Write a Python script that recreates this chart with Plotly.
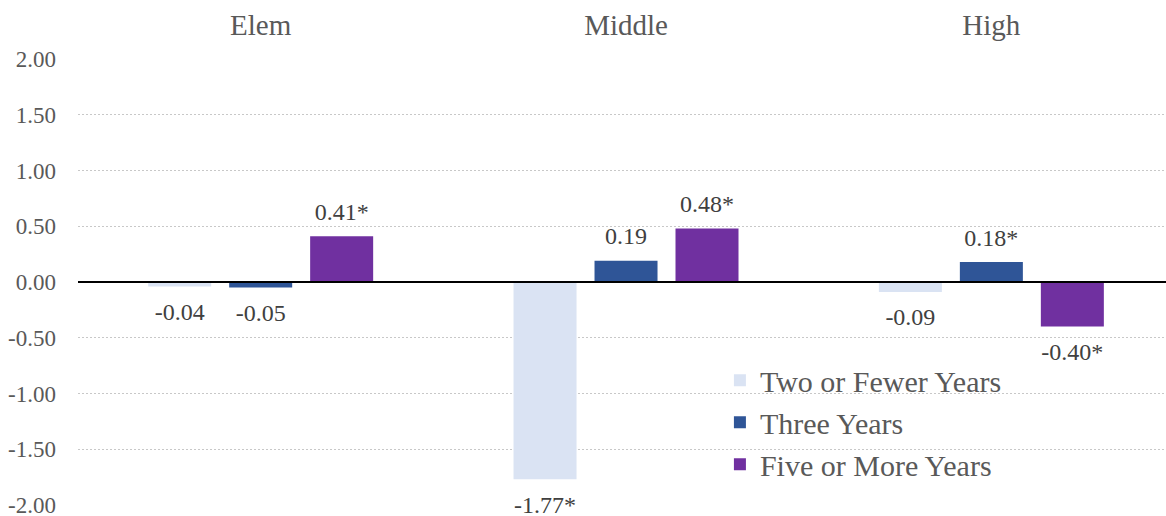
import plotly.graph_objects as go

categories = ["Elem", "Middle", "High"]
series_names = ["Two or Fewer Years", "Three Years", "Five or More Years"]
two_or_fewer = [-0.04, -1.77, -0.09]
three_years = [-0.05, 0.19, 0.18]
five_or_more = [0.41, 0.48, -0.40]
label_two = ["-0.04", "-1.77*", "-0.09"]
label_three = ["-0.05", "0.19", "0.18*"]
label_five = ["0.41*", "0.48*", "-0.40*"]
y_ticks = [2.0, 1.5, 1.0, 0.5, 0.0, -0.5, -1.0, -1.5, -2.0]
y_tick_labels = ["2.00", "1.50", "1.00", "0.50", "0.00", "-0.50", "-1.00", "-1.50", "-2.00"]

colors = ["#DAE3F3", "#2F5597", "#7030A0"]
FONT = "Liberation Serif"
GAP = 0.335

fig = go.Figure()
for i, (name, vals, col) in enumerate(zip(series_names,
                                          [two_or_fewer, three_years, five_or_more],
                                          colors)):
    fig.add_trace(go.Bar(
        x=categories, y=vals, name=name,
        marker=dict(color=col, line=dict(width=0)),
        offsetgroup=str(i),
    ))

# value labels, positioned next to bar ends via grouped scatter
for i, (vals, labels) in enumerate(zip([two_or_fewer, three_years, five_or_more],
                                       [label_two, label_three, label_five])):
    fig.add_trace(go.Scatter(
        x=categories, y=vals, text=labels, mode="markers+text",
        orientation="v", offsetgroup=str(i),
        textposition=["top center" if v >= 0 else "bottom center" for v in vals],
        marker=dict(size=[15 if v >= 0 else 23 for v in vals], opacity=0),
        textfont=dict(family=FONT, size=24, color="#404040"),
        showlegend=False, hoverinfo="skip", cliponaxis=False,
    ))

fig.update_layout(
    width=1166, height=516,
    margin=dict(l=78, r=0, t=59, b=11, autoexpand=False),
    paper_bgcolor="white", plot_bgcolor="white",
    barmode="group", bargap=GAP, bargroupgap=0.222,
    scattermode="group", scattergap=GAP,
    font=dict(family=FONT, color="#595959"),
    showlegend=True,
    legend=dict(
        x=0.590, y=0.338, xanchor="left", yanchor="top",
        font=dict(family=FONT, size=30, color="#595959"),
        bgcolor="rgba(0,0,0,0)", tracegroupgap=0,
    ),
    xaxis=dict(
        side="top", range=[-0.5, 2.478], automargin=False,
        showgrid=False, zeroline=False, showline=False,
        ticks="", tickfont=dict(family=FONT, size=29, color="#595959"),
        ticklabelstandoff=17,
    ),
    yaxis=dict(
        range=[-2, 2], tickvals=y_ticks, ticktext=y_tick_labels, automargin=False,
        showgrid=True, gridcolor="#C8C8C8", griddash="2px,2px", gridwidth=1,
        zeroline=False, showline=False, ticks="",
        tickfont=dict(family=FONT, size=23, color="#595959"),
        ticklabelstandoff=21, ticklabeloverflow="allow",
    ),
)

fig.add_hline(y=0, line=dict(color="black", width=2))

fig.write_html("out.html", post_script="document.body.style.margin='0';",
               config={"displayModeBar": False})
